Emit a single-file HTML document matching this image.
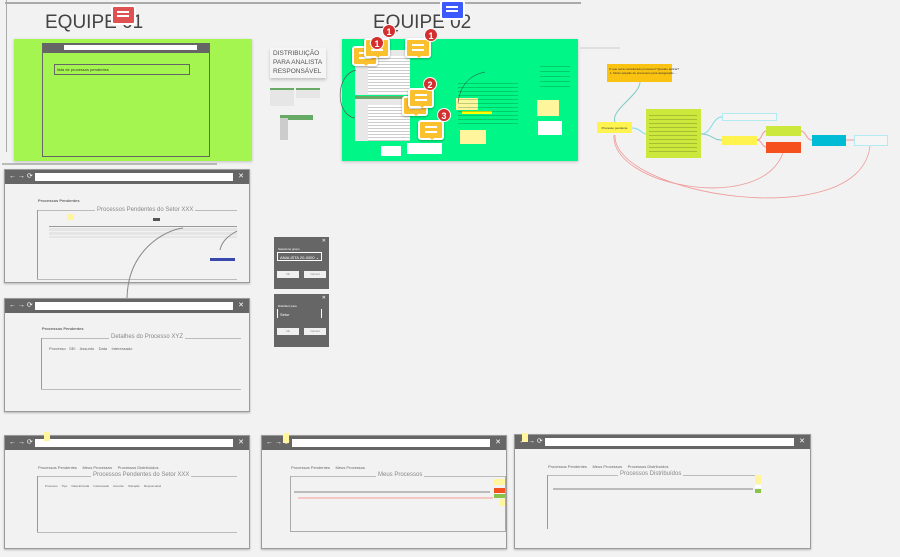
<!DOCTYPE html>
<html><head><meta charset="utf-8">
<style>
*{box-sizing:border-box;margin:0;padding:0}
body{width:900px;height:557px;background:#f2f2f2;position:relative;overflow:hidden;font-family:"Liberation Sans",sans-serif;color:#555}
.a{position:absolute}
.win{position:absolute;background:#f2f2f2;border:1px solid #9a9a9a;box-shadow:0 1px 2px rgba(0,0,0,.25)}
.tb{position:absolute;left:0;top:0;right:0;height:14px;background:#666}
.tb .ad{position:absolute;left:30px;right:16px;top:3px;height:8px;background:#fff}
.tb .ic{position:absolute;top:2px;font-size:7px;color:#fff;line-height:10px}
.tb .x{position:absolute;right:5px;top:2px;font-size:7px;color:#fff;line-height:10px}
.t{font-size:4px;color:#666;position:absolute;white-space:nowrap}
.ttl{font-size:6px;color:#888;position:absolute;white-space:nowrap;background:#f2f2f2;padding:0 2px}
.hl{position:absolute;height:2px;background:#bbb}
.vl{position:absolute;width:1px;background:#999}
.stk{position:absolute;background:#fff59d}
.cm{position:absolute;width:26px;height:20px;background:#fbc02d;border:2px solid #fff;border-radius:3px;box-shadow:0 1px 2px rgba(0,0,0,.3)}
.cm:before{content:"";position:absolute;left:5px;top:4px;width:12px;height:2px;background:#fff;box-shadow:0 5px 0 #fff}
.cm:after{content:"";position:absolute;left:8px;bottom:-6px;border:4px solid transparent;border-top:4px solid #fbc02d}
.bd{position:absolute;width:14px;height:14px;border-radius:7px;background:#d32f2f;color:#fff;font-size:9px;font-weight:bold;text-align:center;line-height:14px;border:1px solid #fff}
.dlg{position:absolute;background:#666;width:55px}
.btn{position:absolute;background:#f0f0f0;height:7px;width:22px;font-size:3px;text-align:center;line-height:7px;color:#888}
.nd{position:absolute;font-size:3px;color:#333;text-align:center}
</style></head><body>

<div class="a" style="left:5px;top:2px;width:576px;height:2px;background:#aaa"></div>
<div class="a" style="left:6px;top:0;width:1px;height:152px;background:#aaa"></div>
<div class="a" style="left:2px;top:163px;width:215px;height:2px;background:#bbb"></div>

<div class="a" style="left:45px;top:12px;font-size:19px;color:#444">EQUIPE 01</div>
<div class="a" style="left:373px;top:12px;font-size:19px;color:#444">EQUIPE 02</div>
<div class="a" style="left:111px;top:5px;width:25px;height:20px;background:#e05252;border:2px solid #fff;border-radius:3px"></div>
<div class="a" style="left:117px;top:11px;width:12px;height:2px;background:#fff;box-shadow:0 4px 0 #fff"></div>
<div class="a" style="left:440px;top:0;width:25px;height:20px;background:#3d5afe;border:2px solid #fff;border-radius:3px"></div>
<div class="a" style="left:446px;top:6px;width:12px;height:2px;background:#fff;box-shadow:0 4px 0 #fff"></div>

<!-- green frame 1 -->
<div class="a" style="left:14px;top:39px;width:238px;height:122px;background:#a5f551;box-shadow:0 1px 3px rgba(0,0,0,.2)"></div>
<div class="a" style="left:42px;top:43px;width:168px;height:114px;border:1px solid #666"></div>
<div class="a" style="left:42px;top:43px;width:168px;height:10px;background:#666"></div>
<div class="a" style="left:64px;top:45px;width:133px;height:5px;background:#fff"></div>
<div class="a" style="left:54px;top:64px;width:136px;height:11px;border:1px solid #666"></div>
<div class="t" style="left:57px;top:67px;color:#333">lista de processos pendentes</div>

<!-- distribution -->
<div class="a" style="left:270px;top:48px;width:56px;height:30px;background:#f5f5f5;box-shadow:0 2px 3px rgba(0,0,0,.2)"></div>
<div class="a" style="left:273px;top:49px;font-size:6.5px;line-height:9px;color:#555">DISTRIBUIÇÃO<br>PARA ANALISTA<br>RESPONSÁVEL</div>
<div class="a" style="left:270px;top:88px;width:24px;height:18px;background:#e6e6e6;border-top:2px solid #6a6"></div>
<div class="a" style="left:296px;top:88px;width:24px;height:10px;background:#e6e6e6;border-top:2px solid #6a6"></div>
<div class="a" style="left:280px;top:115px;width:33px;height:5px;background:#6a6"></div>
<div class="a" style="left:280px;top:118px;width:8px;height:22px;background:#ccc"></div>

<!-- green frame 2 -->
<div class="a" style="left:342px;top:39px;width:236px;height:122px;background:#00f787;box-shadow:0 1px 3px rgba(0,0,0,.2)"></div>
<div class="a" style="left:355px;top:50px;width:55px;height:45px;background:#e8e8e8"></div>
<div class="a" style="left:368px;top:56px;width:42px;height:38px;background:repeating-linear-gradient(#fff 0 2px,#ccc 2px 3px)"></div>
<div class="a" style="left:355px;top:96px;width:55px;height:45px;background:#e8e8e8;border-top:3px solid #6a6"></div>
<div class="a" style="left:368px;top:105px;width:42px;height:36px;background:repeating-linear-gradient(#fff 0 2px,#ccc 2px 3px)"></div>
<div class="stk" style="left:456px;top:98px;width:22px;height:12px"></div>
<div class="stk" style="left:460px;top:130px;width:26px;height:14px"></div>
<div class="stk" style="left:537px;top:100px;width:22px;height:16px"></div>
<div class="a" style="left:538px;top:121px;width:24px;height:14px;background:#fff"></div>
<div class="a" style="left:381px;top:146px;width:20px;height:10px;background:#fff"></div>
<div class="a" style="left:407px;top:143px;width:35px;height:11px;background:#fff"></div>
<div class="a" style="left:462px;top:111px;width:30px;height:3px;background:#ff0"></div>
<div class="a" style="left:458px;top:80px;width:60px;height:45px;background:repeating-linear-gradient(transparent 0 3px,rgba(0,80,0,.25) 3px 4px)"></div>
<div class="a" style="left:540px;top:62px;width:30px;height:28px;background:repeating-linear-gradient(transparent 0 4px,rgba(0,80,0,.25) 4px 5px)"></div>
<div class="cm" style="left:352px;top:46px"></div><div class="cm" style="left:364px;top:38px"></div>
<div class="bd" style="left:370px;top:36px">1</div><div class="bd" style="left:382px;top:24px">1</div>
<div class="cm" style="left:405px;top:38px"></div><div class="bd" style="left:424px;top:28px">1</div>
<div class="cm" style="left:402px;top:96px"></div><div class="cm" style="left:408px;top:88px"></div><div class="bd" style="left:423px;top:77px">2</div>
<div class="cm" style="left:418px;top:120px"></div><div class="bd" style="left:437px;top:108px">3</div>

<div class="a" style="left:607px;top:64px;width:65px;height:18px;background:#fbc311"></div>
<div class="t" style="left:609px;top:67px;font-size:3px;color:#333">O que seria considerado processo? Quando aplicar?<br>&nbsp;1. Modo seleção de processos para designação ...</div>
<div class="a" style="left:597px;top:122px;width:35px;height:11px;background:#fff44f"></div>
<div class="nd" style="left:599px;top:126px;width:31px">Processo pendente</div>
<div class="a" style="left:646px;top:109px;width:55px;height:49px;background:#cde83c"></div>
<div class="a" style="left:649px;top:112px;width:48px;height:43px;background:repeating-linear-gradient(transparent 0 3px,rgba(0,0,0,.18) 3px 4px)"></div>
<div class="a" style="left:722px;top:113px;width:55px;height:8px;border:1px solid #b2ebf2;background:#f5f5f5"></div>
<div class="a" style="left:722px;top:136px;width:35px;height:9px;background:#fff44f"></div>
<div class="a" style="left:766px;top:126px;width:35px;height:10px;background:#cde83c"></div>
<div class="a" style="left:766px;top:142px;width:35px;height:11px;background:#f4511e"></div>
<div class="a" style="left:812px;top:135px;width:34px;height:11px;background:#00bcd4"></div>
<div class="a" style="left:854px;top:135px;width:34px;height:11px;border:1px solid #b2ebf2;background:#f5f5f5"></div>

<!-- window A -->
<div class="win" style="left:4px;top:169px;width:246px;height:114px">
<div class="tb"><span class="ic" style="left:4px">← → ⟳</span><div class="ad"></div><span class="x">✕</span></div>
<div class="t" style="left:33px;top:28px;font-weight:bold">Processos Pendentes</div>
<div class="hl" style="left:32px;top:40px;width:200px;height:1px"></div>
<div class="ttl" style="left:90px;top:37px">Processos Pendentes do Setor XXX</div>
<div class="vl" style="left:32px;top:40px;height:70px"></div>
<div class="hl" style="left:32px;top:109px;width:200px;height:1px"></div>
<div class="stk" style="left:62px;top:44px;width:7px;height:6px"></div>
<div class="hl" style="left:44px;top:56px;width:188px;height:1px;background:#999"></div>
<div class="a" style="left:44px;top:58px;width:188px;height:10px;background:repeating-linear-gradient(#e5e5e5 0 3px,transparent 3px 4px)"></div>
<div class="a" style="left:205px;top:88px;width:25px;height:3px;background:#3949ab"></div>
<div class="a" style="left:148px;top:48px;width:7px;height:3px;background:#555"></div>
</div>
<!-- window B -->
<div class="win" style="left:4px;top:298px;width:246px;height:114px">
<div class="tb"><span class="ic" style="left:4px">← → ⟳</span><div class="ad"></div><span class="x">✕</span></div>
<div class="t" style="left:37px;top:27px;font-weight:bold">Processos Pendentes</div>
<div class="hl" style="left:36px;top:39px;width:200px;height:1px"></div>
<div class="ttl" style="left:104px;top:35px">Detalhes do Processo XYZ</div>
<div class="vl" style="left:36px;top:39px;height:51px"></div>
<div class="hl" style="left:36px;top:90px;width:200px;height:1px"></div>
<div class="t" style="left:44px;top:47px">Processo &nbsp; SEI &nbsp;&nbsp; Assunto &nbsp;&nbsp; Data &nbsp;&nbsp; Interessado</div>
</div>

<!-- dialogs -->
<div class="dlg" style="left:274px;top:237px;height:52px">
<span class="a" style="right:3px;top:1px;color:#fff;font-size:5px">✕</span>
<div class="t" style="left:4px;top:10px;color:#fff;font-size:3px">Selecione grupo</div>
<div class="a" style="left:3px;top:15px;width:45px;height:9px;border:1px solid #fff"></div>
<div class="t" style="left:6px;top:18px;color:#fff">ANALISTA 20-0000 ⌄</div>
<div class="btn" style="left:3px;top:34px">Ok</div><div class="btn" style="left:30px;top:34px">Cancel</div>
</div>
<div class="dlg" style="left:274px;top:294px;height:53px">
<span class="a" style="right:3px;top:1px;color:#fff;font-size:5px">✕</span>
<div class="t" style="left:4px;top:10px;color:#fff;font-size:3px">Distribuir para</div>
<div class="a" style="left:3px;top:15px;width:45px;height:9px;border-left:1px solid #fff;border-right:1px solid #fff"></div>
<div class="t" style="left:6px;top:18px;color:#fff">Setor</div>
<div class="btn" style="left:3px;top:34px">Ok</div><div class="btn" style="left:30px;top:34px">Cancel</div>
</div>

<!-- bottom windows -->
<div class="win" style="left:4px;top:435px;width:246px;height:114px">
<div class="tb"><span class="ic" style="left:4px">← → ⟳</span><div class="ad"></div><span class="x">✕</span></div>
<div class="t" style="left:33px;top:29px">Processos Pendentes &nbsp;&nbsp;&nbsp; Meus Processos &nbsp;&nbsp;&nbsp; Processos Distribuídos</div>
<div class="hl" style="left:32px;top:40px;width:200px;height:1px"></div>
<div class="ttl" style="left:86px;top:36px">Processos Pendentes do Setor XXX</div>
<div class="vl" style="left:32px;top:40px;height:56px"></div>
<div class="hl" style="left:32px;top:96px;width:200px;height:1px"></div>
<div class="t" style="left:40px;top:48px;font-size:3px">Processo &nbsp;&nbsp;&nbsp; Tipo &nbsp;&nbsp;&nbsp; Data Entrada &nbsp;&nbsp;&nbsp; Interessado &nbsp;&nbsp;&nbsp; Assunto &nbsp;&nbsp;&nbsp; Situação &nbsp;&nbsp;&nbsp; Responsável</div>
</div>
<div class="stk" style="left:44px;top:432px;width:6px;height:9px"></div>
<div class="win" style="left:261px;top:435px;width:246px;height:114px">
<div class="tb"><span class="ic" style="left:4px">← → ⟳</span><div class="ad"></div><span class="x">✕</span></div>
<div class="t" style="left:29px;top:29px">Processos Pendentes &nbsp;&nbsp;&nbsp; Meus Processos</div>
<div class="hl" style="left:28px;top:40px;width:216px;height:1px"></div>
<div class="ttl" style="left:114px;top:36px">Meus Processos</div>
<div class="a" style="left:28px;top:40px;width:216px;height:56px;border:1px solid #aaa;border-top:none"></div>
<div class="hl" style="left:32px;top:55px;width:196px;height:2px"></div>
<div class="a" style="left:36px;top:61px;width:195px;height:2px;background:#f4c7c3"></div>
<div class="a" style="left:232px;top:43px;width:11px;height:6px;background:#fff59d"></div>
<div class="a" style="left:232px;top:52px;width:11px;height:5px;background:#f4511e"></div>
<div class="a" style="left:232px;top:58px;width:11px;height:4px;background:#8bc34a"></div>
<div class="stk" style="left:238px;top:63px;width:5px;height:7px"></div>
</div>
<div class="stk" style="left:283px;top:433px;width:6px;height:10px"></div>
<div class="win" style="left:514px;top:434px;width:297px;height:115px">
<div class="tb"><span class="ic" style="left:4px">← → ⟳</span><div class="ad" style="left:30px;right:16px"></div><span class="x">✕</span></div>
<div class="t" style="left:33px;top:29px">Processos Pendentes &nbsp;&nbsp;&nbsp; Meus Processos &nbsp;&nbsp;&nbsp; Processos Distribuídos</div>
<div class="hl" style="left:32px;top:40px;width:208px;height:1px"></div>
<div class="ttl" style="left:103px;top:36px">Processos Distribuídos</div>
<div class="vl" style="left:32px;top:40px;height:54px"></div>
<div class="hl" style="left:38px;top:53px;width:200px;height:2px"></div>
<div class="stk" style="left:240px;top:40px;width:6px;height:9px"></div>
<div class="a" style="left:240px;top:50px;width:6px;height:3px;background:#fff"></div>
<div class="a" style="left:240px;top:54px;width:6px;height:4px;background:#8bc34a"></div>
</div>
<div class="stk" style="left:522px;top:433px;width:6px;height:9px"></div>

<svg class="a" style="left:0;top:0;z-index:5" width="900" height="557">
<path d="M356 70 C335 75 335 115 355 118" stroke="#555" fill="none" stroke-width=".7"/>
<path d="M458 103 C460 85 470 75 485 72" stroke="#333" fill="none" stroke-width=".5"/>
<path d="M580 48 L620 48" stroke="#ccc" stroke-width="1"/>
<path d="M615 122 C610 110 640 95 640 82" stroke="#80cbc4" fill="none" stroke-width="1"/>
<path d="M632 128 C640 128 642 134 646 134" stroke="#80deea" fill="none" stroke-width="1"/>
<path d="M701 134 C712 134 712 117 722 117" stroke="#80deea" fill="none" stroke-width="1"/>
<path d="M701 134 C712 134 712 140 722 140" stroke="#80cbc4" fill="none" stroke-width="1"/>
<path d="M757 140 C762 140 762 131 766 131" stroke="#ef9a9a" fill="none" stroke-width="1"/>
<path d="M757 140 C762 140 762 147 766 147" stroke="#ef9a9a" fill="none" stroke-width="1"/>
<path d="M801 131 C806 131 806 140 812 140" stroke="#ef9a9a" fill="none" stroke-width="1"/>
<path d="M846 140 L854 140" stroke="#ef9a9a" fill="none" stroke-width="1"/>
<path d="M614 135 C610 185 760 215 783 153" stroke="#ef9a9a" fill="none" stroke-width=".8"/>
<path d="M615 135 C612 195 860 235 870 146" stroke="#ef9a9a" fill="none" stroke-width=".8"/>
<path d="M127 298 C128 250 165 230 183 228" stroke="#888" fill="none" stroke-width="1"/>
<path d="M220 250 C222 240 230 235 237 231" stroke="#888" fill="none" stroke-width="1"/>
</svg>
</body></html>
